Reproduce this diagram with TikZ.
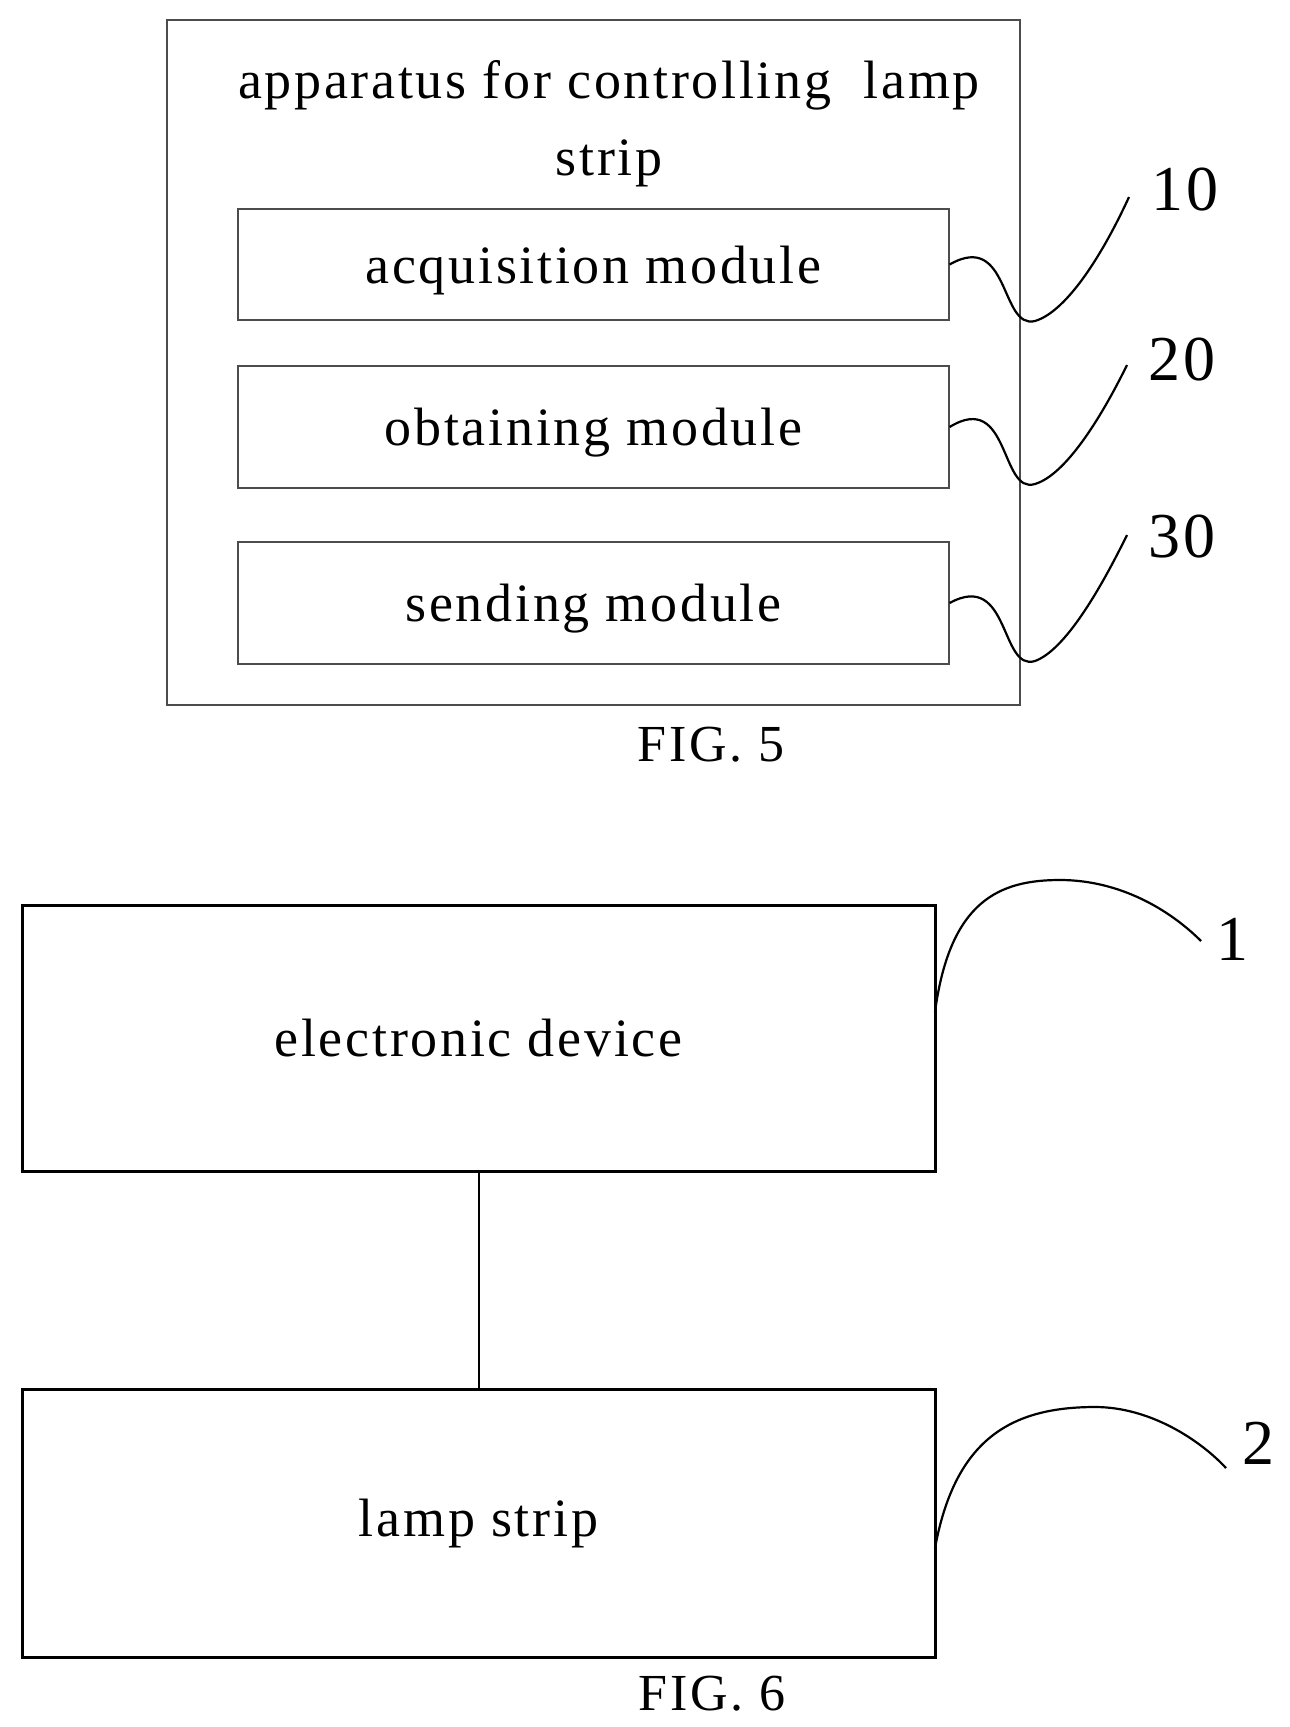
\documentclass[tikz,border=0pt]{standalone}
\usepackage{fontspec}
\setmainfont{Liberation Serif}[LetterSpace=5]
\begin{document}
\begin{tikzpicture}[x=1pt,y=-1pt,
  lbl/.style={font=\fontsize{54}{77}\selectfont, inner sep=0},
  fig/.style={font=\fontsize{52}{60}\selectfont, inner sep=0},
  num/.style={font=\fontsize{64}{70}\selectfont, inner sep=0},
  thin box/.style={draw=black!70, line width=1.2pt},
  thick box/.style={draw, line width=3pt},
  lead/.style={line width=2.2pt}]
\useasboundingbox (0,0) rectangle (1290,1727);
% FIG 5
\node[thin box, minimum width=853, minimum height=685, inner sep=0] (outer) at (593.5,362.5) {};
\node[lbl, align=center] (title) at (609,124) {apparatus for controlling\ \ lamp\\strip};
\node[thin box, minimum width=711, minimum height=111, inner sep=0] (m1) at (593.5,264.5) {};
\node[lbl] at ([yshift=-6pt]m1.center) {acquisition module};
\node[thin box, minimum width=711, minimum height=122, inner sep=0] (m2) at (593.5,427) {};
\node[lbl] at ([yshift=-6pt]m2.center) {obtaining module};
\node[thin box, minimum width=711, minimum height=122, inner sep=0] (m3) at (593.5,603) {};
\node[lbl] at ([yshift=-6pt]m3.center) {sending module};
\node[num] (n10) at (1185,190) {10};
\node[num] (n20) at (1182,360) {20};
\node[num] (n30) at (1182,537) {30};
\coordinate (e1) at (1129,197);
\coordinate (e2) at (1127,365);
\coordinate (e3) at (1127,535);
\draw[lead] (m1.east) .. controls (1010,230) and (1000,330) .. (1035,321) .. controls (1065,312) and (1100,260) .. (e1);
\draw[lead] (m2.east) .. controls (1010,390) and (1000,495) .. (1035,484) .. controls (1065,475) and (1100,420) .. (e2);
\draw[lead] (m3.east) .. controls (1010,570) and (1000,672) .. (1035,661) .. controls (1065,650) and (1100,590) .. (e3);
\node[fig] (f5) at (711,745) {FIG. 5};
% FIG 6
\node[thick box, minimum width=913, minimum height=266, inner sep=0] (b1) at (478.5,1038) {};
\node[lbl] at (b1) {electronic device};
\node[thick box, minimum width=913, minimum height=268, inner sep=0] (b2) at (478.5,1523) {};
\node[lbl] at (b2) {lamp strip};
\draw[line width=2pt] (b1) -- (b2);
\node[num] (n1) at (1232,939) {1};
\node[num] (n2) at (1258,1443) {2};
\coordinate (a1) at (1201,941);
\coordinate (a2) at (1226,1468);
\coordinate (s1) at (935,1012);
\coordinate (s2) at (935,1548);
\draw[lead] (s1) .. controls (950,900) and (1000,880) .. (1060,880) .. controls (1120,880) and (1170,910) .. (a1);
\draw[lead] (s2) .. controls (955,1440) and (1010,1407) .. (1095,1407) .. controls (1150,1407) and (1200,1440) .. (a2);
\node[fig] (f6) at (712,1694) {FIG. 6};
\end{tikzpicture}
\end{document}
